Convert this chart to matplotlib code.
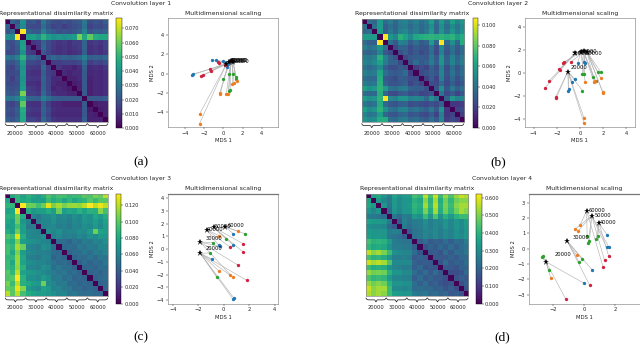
import numpy as np
import matplotlib
matplotlib.use("Agg")
import matplotlib.pyplot as plt

W, H = 640, 346
STAR_LABELS = ["20000", "30000", "40000", "50000", "60000"]
GROUP_LABELS = ["20000", "30000", "40000", "50000", "60000"]
BLUE, RED, GREEN, ORANGE = "#1f77b4", "#d0213f", "#2ca02c", "#ee7d22"

# Upper triangles of the dissimilarity matrices, in percent of each colour-scale maximum
RDM_A = [
 [32,26,50,25,27,22,40,28,24,22,25,22,26,28,40,23,26,24,30],
 [32,48,24,22,22,36,26,20,22,18,22,24,26,38,20,24,22,26],
 [100,32,28,27,44,32,28,24,26,24,26,30,44,26,30,28,32],
 [55,57,50,65,55,50,52,50,52,55,80,60,75,62,60,60],
 [16,18,32,22,18,15,17,14,18,18,32,15,18,16,20],
 [16,34,22,17,14,16,14,16,18,32,14,16,14,20],
 [28,20,16,14,15,12,14,16,30,14,16,14,17],
 [28,34,30,32,30,32,34,44,30,32,30,34],
 [18,18,20,20,20,22,36,18,22,20,24],
 [16,12,12,10,14,30,12,14,12,16],
 [12,10,12,12,28,11,12,11,14],
 [10,10,12,28,10,12,11,14],
 [8,10,28,9,12,11,14],
 [10,28,9,12,11,14],
 [28,9,12,11,14],
 [28,28,27,30],
 [8,10,10],
 [8,10],
 [10],
]
RDM_B = [
 [37,33,55,35,42,33,42,45,38,44,36,42,57,36,55,40,57,45,52],
 [37,55,30,37,32,40,42,34,40,34,38,50,33,50,36,48,38,47],
 [55,30,40,33,44,48,38,42,34,40,54,34,52,38,52,40,50],
 [100,52,46,64,58,48,60,62,64,65,63,65,62,65,56,62],
 [37,28,44,42,30,37,28,32,55,33,100,34,50,33,62],
 [22,32,32,24,30,26,26,38,24,47,28,38,28,36],
 [25,32,24,28,22,26,36,22,44,26,36,26,34],
 [22,28,30,30,28,40,28,52,30,44,32,40],
 [26,36,28,32,42,30,52,32,45,34,42],
 [18,24,20,32,24,44,24,36,26,34],
 [22,26,30,26,46,26,38,28,36],
 [20,30,20,44,24,34,24,32],
 [24,22,34,22,30,22,28],
 [26,50,26,40,30,37],
 [38,22,28,20,28],
 [32,52,44,46],
 [16,16,18],
 [20,22],
 [18],
]
RDM_C = [
 [60,66,58,64,60,56,62,72,66,70,70,66,68,68,74,72,80,76,90],
 [66,60,62,56,57,56,68,62,66,60,66,60,64,66,74,68,74,74],
 [100,78,77,70,77,95,80,87,80,84,85,83,90,100,90,97,90],
 [62,53,57,56,62,56,77,56,60,58,64,58,64,63,82,70],
 [45,40,48,48,52,46,48,44,50,46,54,50,60,54,62],
 [42,46,46,50,44,46,42,48,46,52,50,56,50,58],
 [44,46,48,42,44,40,46,44,50,48,54,48,56],
 [50,46,50,44,46,46,50,48,54,78,58,56],
 [44,48,42,44,42,48,44,50,48,54,52],
 [36,36,32,38,36,42,40,46,44,50],
 [34,36,34,40,38,42,40,46,46],
 [32,36,36,40,36,42,40,46],
 [32,36,34,38,34,40,38],
 [30,36,32,36,34,40],
 [32,34,32,36,36],
 [32,34,32,36],
 [32,34,36],
 [32,34],
 [34],
]
RDM_D = [
 [58,60,52,42,58,50,55,56,70,66,90,70,92,68,84,72,84,92,88],
 [54,46,40,54,48,52,53,64,60,82,64,86,62,78,66,78,82,82],
 [52,38,54,48,52,54,66,62,86,66,90,64,80,68,82,86,86],
 [35,52,46,52,53,64,60,80,62,86,62,78,66,78,86,82],
 [40,34,42,40,54,50,68,52,72,51,64,54,64,68,68],
 [28,44,38,42,42,50,42,48,46,52,46,52,48,56],
 [42,36,40,42,48,42,48,44,52,46,52,48,54],
 [30,38,40,46,44,48,42,48,44,50,46,52],
 [38,40,46,42,48,42,48,44,50,48,52],
 [30,36,28,32,30,36,30,36,34,42],
 [26,32,28,34,30,36,30,36,38],
 [28,30,26,36,28,36,34,40],
 [28,28,28,32,28,34,34],
 [26,36,28,32,30,36],
 [28,28,26,32,32],
 [24,24,26,34],
 [26,30,28],
 [24,30],
 [26],
]

# MDS points: star positions, star-label centres, and (x, y, star index) per colour
A_STAR_X = [0.30, 0.55, 0.75, 0.90, 1.00]
A_STAR_Y = [1.00, 1.20, 1.30, 1.30, 1.25]
A_LABEL_X = [1.35, 1.50, 1.60, 1.72, 1.80]
A_LABEL_Y = [1.30, 1.35, 1.35, 1.35, 1.30]
A_BLUE = [(-1.2,1.4,1),(-0.8,1.4,1),(0.0,1.3,2),(0.3,1.1,3),(0.5,1.0,3),(0.4,0.7,4),(-3.2,-0.05,0),(-3.3,-0.12,0)]
A_RED = [(-0.6,1.2,1),(-0.5,1.1,1),(-1.4,0.45,2),(-1.3,0.3,2),(-2.1,-0.15,0),(-2.3,-0.2,0),(0.2,0.9,3)]
A_GREEN = [(1.0,0.0,3),(0.6,-0.05,3),(1.3,-0.35,4),(1.3,-0.6,4),(0.0,-0.6,2),(0.7,-1.7,2),(0.55,-1.85,2)]
A_ORANGE = [(-2.5,-4.2,0),(-2.5,-5.2,0),(-0.4,-2.05,1),(-0.35,-2.15,1),(0.3,-2.1,2),(0.5,-2.1,2),(0.9,-1.1,3),(1.1,-1.0,3),(1.4,-0.8,4)]

B_STAR_X = [-1.05, -0.40, 0.05, 0.30, 0.60]
B_STAR_Y = [0.15, 1.75, 1.85, 1.90, 1.85]
B_LABEL_X = [-0.05, 0.00, 0.50, 0.80, 1.20]
B_LABEL_Y = [0.50, 1.70, 1.80, 1.85, 1.70]
B_BLUE = [(-0.2,0.85,2),(0.3,0.95,2),(0.45,0.85,3),(-0.45,-0.5,0),(-0.65,-0.8,0),(-1.0,-1.5,0),(-0.95,-1.4,0)]
B_RED = [(-3.0,-1.25,1),(-2.65,-0.65,1),(-1.8,0.35,1),(-1.75,0.3,1),(-1.35,0.95,2),(-1.45,0.92,2),(-0.8,0.95,3),(-2.1,-2.05,0),(-2.05,-2.15,0)]
B_GREEN = [(0.2,-0.05,3),(0.3,-0.1,3),(1.55,0.1,4),(1.8,0.1,4),(1.15,-0.35,4),(1.35,-0.7,3),(0.2,-1.5,0)]
B_ORANGE = [(0.45,-0.8,2),(1.3,-0.7,3),(1.2,-0.75,3),(1.8,-0.45,4),(1.95,-1.6,4),(2.0,-1.75,4),(0.35,-3.9,0),(0.35,-4.35,0)]

C_STAR_X = [-1.85, -1.83, -1.33, -0.80, 0.10]
C_STAR_Y = [0.55, -0.35, 1.50, 1.70, 1.75]
C_LABEL_X = [-0.80, -0.80, -0.70, -0.05, 0.97]
C_LABEL_Y = [0.05, 0.80, 1.55, 1.75, 1.85]
C_BLUE = [(0.75,1.2,4),(0.7,0.35,3),(-0.4,0.3,2),(-0.3,0.2,0),(-0.9,-0.8,1),(0.8,-3.85,1),(0.7,-3.9,1)]
C_RED = [(1.55,0.4,3),(1.55,-0.25,3),(0.5,0.15,2),(1.1,-1.25,0),(1.8,-2.45,1)]
C_GREEN = [(1.65,1.2,4),(0.2,0.8,3),(-0.85,0.5,0),(-1.1,-0.3,1),(-0.55,-2.2,1)]
C_ORANGE = [(1.1,1.4,4),(-0.35,1.05,2),(-0.35,-1.75,1),(0.5,-2.0,0),(0.7,-2.2,1)]

D_STAR_X = [-2.48, -1.09, 0.98, 0.50, 0.17]
D_STAR_Y = [-0.85, 0.50, 1.65, 2.15, 2.48]
D_LABEL_X = [-1.39, -0.20, 1.59, 1.24, 0.85]
D_LABEL_Y = [-0.37, 0.76, 1.74, 2.15, 2.48]
D_BLUE = [(1.5,0.9,2),(1.46,0.1,3),(1.63,0.08,3),(0.52,-1.37,1),(-0.02,-2.24,0)]
D_RED = [(1.59,-0.46,2),(1.33,-0.76,3),(1.24,-1.2,4),(0.37,-2.39,1),(-1.2,-3.26,0)]
D_GREEN = [(0.2,0.85,4),(0.35,0.48,3),(0.27,0.4,3),(0.9,0.85,2),(0.78,0.63,2),(-0.13,-0.67,1),(-0.33,-0.87,1),(-2.67,-0.45,0),(-2.74,-0.55,0),(-2.3,-1.4,0)]
D_ORANGE = [(-0.24,1.57,4),(-0.57,1.28,3),(-0.41,1.13,3),(-0.48,-0.43,1),(-2.15,-1.93,0)]

VMAX = [0.077, 0.1065, 0.1339, 0.622]
CB_TICKS = [
    [0, .01, .02, .03, .04, .05, .06, .07],
    [0, .02, .04, .06, .08, .10],
    [0, .02, .04, .06, .08, .10, .12],
    [0, .1, .2, .3, .4, .5, .6],
]

plt.rcParams["font.family"] = "DejaVu Sans"
fig = plt.figure(figsize=(W / 100, H / 100), dpi=100)


def box(x0, y0, x1, y1):
    return [x0 / W, 1 - y1 / H, (x1 - x0) / W, (y1 - y0) / H]


def ftext(x, y, s, **kw):
    fig.text(x / W, 1 - y / H, s, ha="center", va="center", **kw)


def symmetric(upper):
    m = np.zeros((20, 20))
    for i, row in enumerate(upper):
        assert len(row) == 19 - i, i
        m[i, i + 1:] = row
    return m + m.T


def brace(ax, lo, hi, base):
    t = np.linspace(0, 1, 41)
    half = np.minimum(t, 1 - t) * 2
    curve = np.tanh(half * 9) * 0.35 + np.exp(-((t - 0.5) / 0.035) ** 2) * 0.4
    ax.plot(lo + (hi - lo) * t, base + curve, color="#111111", lw=0.5, clip_on=False)


def heatmap(hm_box, cb_box, upper, vmax, ticks):
    ax = fig.add_axes(box(*hm_box))
    data = symmetric(upper) / 100 * vmax
    im = ax.imshow(data, cmap="viridis", vmin=0, vmax=vmax, aspect="auto", interpolation="nearest")
    ax.set_xticks([1.5, 5.5, 9.5, 13.5, 17.5], GROUP_LABELS)
    ax.set_yticks([])
    ax.tick_params(axis="x", length=0, pad=6.2, labelsize=3.7, labelcolor="#222222")
    for s in ax.spines.values():
        s.set_linewidth(0.5)
        s.set_color("#888888")
    for g in range(5):
        brace(ax, g * 4 - 0.45, g * 4 + 3.45, 19.85)
    ax.set_xlim(-0.5, 19.5)
    ax.set_ylim(19.5, -0.5)
    cax = fig.add_axes(box(*cb_box))
    cb = fig.colorbar(im, cax=cax)
    cb.set_ticks(ticks, labels=["%.3f" % t for t in ticks])
    cb.ax.tick_params(length=1.2, width=0.3, pad=1.2, labelsize=3.6, labelcolor="#222222")
    cb.outline.set_linewidth(0.3)


def mds(ax_box, xlim, ylim, xticks, yticks, sx, sy, lx, ly, series, top_lw):
    ax = fig.add_axes(box(*ax_box))
    for pts, col in zip(series, [BLUE, RED, GREEN, ORANGE]):
        for x, y, k in pts:
            ax.plot([sx[k], x], [sy[k], y], color="#b5b5b5", lw=0.45, zorder=1)
        ax.plot([p[0] for p in pts], [p[1] for p in pts], "o", color=col, ms=2.4, mew=0, zorder=2)
    ax.plot(sx, sy, "*", color="black", ms=4.6, mew=0, zorder=3)
    for x, y, s in zip(lx, ly, STAR_LABELS):
        ax.text(x, y, s, fontsize=3.7, ha="center", va="center", color="black", zorder=4)
    ax.set_xlim(*xlim)
    ax.set_ylim(*ylim)
    ax.set_xticks(xticks)
    ax.set_yticks(yticks)
    ax.tick_params(length=1.2, width=0.3, pad=1.5, labelsize=3.7, labelcolor="#222222")
    ax.set_xlabel("MDS 1", fontsize=3.8, labelpad=1.5, color="#222222")
    ax.set_ylabel("MDS 2", fontsize=3.8, labelpad=1.0, color="#222222")
    for s in ax.spines.values():
        s.set_linewidth(0.4)
        s.set_color("#777777")
    ax.spines["top"].set_linewidth(top_lw)


mds_ev4 = [-4, -2, 0, 2, 4]

heatmap((5, 19, 108, 122), (116, 18.3, 121.5, 128), RDM_A, VMAX[0], CB_TICKS[0])
mds((168, 18, 278, 127), (-5.8, 5.7), (-5.55, 5.8), mds_ev4, mds_ev4,
    A_STAR_X, A_STAR_Y, A_LABEL_X, A_LABEL_Y, [A_BLUE, A_RED, A_GREEN, A_ORANGE], 0.4)

heatmap((361.5, 19, 464, 122), (472.5, 18.3, 478, 128), RDM_B, VMAX[1], CB_TICKS[1])
mds((524.7, 18, 635, 127), (-4.77, 4.74), (-4.67, 4.8), mds_ev4, mds_ev4,
    B_STAR_X, B_STAR_Y, B_LABEL_X, B_LABEL_Y, [B_BLUE, B_RED, B_GREEN, B_ORANGE], 0.4)

heatmap((5, 193.7, 108, 296.3), (115.5, 193.7, 121, 303.7), RDM_C, VMAX[2], CB_TICKS[2])
mds((168, 193.7, 278, 303.7), (-4.37, 4.26), (-4.29, 4.34), mds_ev4, [-4, -3, -2, -1, 0, 1, 2, 3, 4],
    C_STAR_X, C_STAR_Y, C_LABEL_X, C_LABEL_Y, [C_BLUE, C_RED, C_GREEN, C_ORANGE], 0.9)

heatmap((365.7, 193.7, 468.3, 296.3), (476.3, 193.7, 481.7, 303.7), RDM_D, VMAX[3], CB_TICKS[3])
mds((529, 193.7, 639.5, 303.7), (-3.57, 3.6), (-3.59, 3.59), [-2, 0, 2], [-3, -2, -1, 0, 1, 2, 3],
    D_STAR_X, D_STAR_Y, D_LABEL_X, D_LABEL_Y, [D_BLUE, D_RED, D_GREEN, D_ORANGE], 0.9)

tc = "#222222"
for x, y, s in [(141, 3.3, "Convolution layer 1"), (497.7, 3.3, "Convolution layer 2"),
                (141, 178.8, "Convolution layer 3"), (502, 178.8, "Convolution layer 4")]:
    ftext(x, y, s, fontsize=4.4, color=tc)
for x, y in [(56, 13), (412, 13), (56, 188.7), (416.7, 188.7)]:
    ftext(x, y, "Representational dissimilarity matrix", fontsize=4.45, color=tc)
for x, y in [(223, 13), (579.7, 13), (223, 188.7), (584, 188.7)]:
    ftext(x, y, "Multidimensional scaling", fontsize=4.45, color=tc)
for x, y, s in [(141, 162, "(a)"), (498, 162, "(b)"), (141, 337, "(c)"), (502, 337, "(d)")]:
    ftext(x, y, s, fontsize=9.7, family="Liberation Serif", color="black")

fig.savefig("out.png", dpi=100)
